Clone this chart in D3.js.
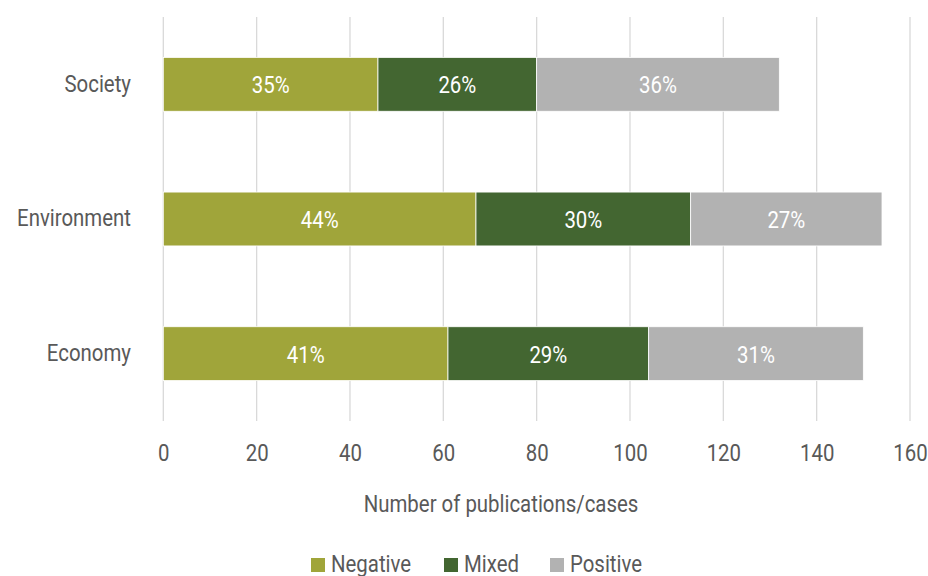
<!DOCTYPE html>
<html>
<head>
<meta charset="utf-8">
<script src="https://cdn.jsdelivr.net/npm/d3@7"></script>
<style>
  html, body { margin: 0; padding: 0; background: #fff; }
  svg { display: block; }
  text { font-family: "Roboto", "Liberation Sans", sans-serif; }
</style>
</head>
<body>
<svg id="chart" width="928" height="576"></svg>
<script>
// ---- data ----
const categories = ["Society", "Environment", "Economy"];
const seriesNames = ["Negative", "Mixed", "Positive"];
const negative = [46, 67, 61];
const mixed = [34, 46, 43];
const positive = [52, 41, 46];
const negativeLabels = ["35%", "44%", "41%"];
const mixedLabels = ["26%", "30%", "29%"];
const positiveLabels = ["36%", "27%", "31%"];
const xTicks = [0, 20, 40, 60, 80, 100, 120, 140, 160];
const axisTitle = "Number of publications/cases";

const colors = ["#A0A53A", "#436631", "#B2B2B2"];
const textColor = "#595959";
const gridColor = "#D9D9D9";
const FS = 24;          // font size
const SX = 0.85;        // horizontal condense factor

const rows = categories.map((c, i) => ({
  category: c,
  Negative: negative[i], Mixed: mixed[i], Positive: positive[i],
  labels: { Negative: negativeLabels[i], Mixed: mixedLabels[i], Positive: positiveLabels[i] }
}));

const svg = d3.select("#chart");
const x = d3.scaleLinear().domain([0, 160]).range([163.3, 910]);
const y = d3.scaleBand().domain(categories).range([17, 421]).paddingInner(0.6).paddingOuter(0.3);

// helper: condensed text placed at (px, py)
function ctext(g, px, py) {
  return g.append("g").attr("transform", `translate(${px},${py}) scale(${SX},1)`).append("text")
    .attr("font-size", FS);
}

// gridlines
svg.append("g").selectAll("line").data(xTicks).join("line")
  .attr("x1", d => x(d)).attr("x2", d => x(d))
  .attr("y1", 17).attr("y2", 421)
  .attr("stroke", gridColor).attr("stroke-width", 1.3);

// x axis labels
const xAxis = d3.axisBottom(x).tickValues(xTicks).tickSize(0).tickPadding(0);
const gx = svg.append("g").attr("transform", "translate(0,461)").call(xAxis);
gx.select(".domain").remove();
gx.selectAll("text").attr("dy", 0).attr("y", 0)
  .attr("transform", `scale(${SX},1)`)
  .attr("font-size", FS).attr("fill", textColor)
  .style("font-family", '"Roboto", sans-serif');

// y axis labels
const yAxis = d3.axisLeft(y).tickSize(0).tickPadding(0);
const gy = svg.append("g").attr("transform", "translate(131,0)").call(yAxis);
gy.select(".domain").remove();
gy.selectAll("text").attr("dy", "0.3em").attr("x", 0)
  .attr("transform", `scale(${SX},1)`)
  .attr("font-size", FS).attr("fill", textColor)
  .style("font-family", '"Roboto", sans-serif');

// stacked bars
const stacked = d3.stack().keys(seriesNames)(rows);
const color = d3.scaleOrdinal().domain(seriesNames).range(colors);

const layers = svg.append("g").selectAll("g").data(stacked).join("g")
  .attr("fill", d => color(d.key));
layers.selectAll("rect").data(d => d.map(v => Object.assign(v, { key: d.key }))).join("rect")
  .attr("x", d => x(d[0]))
  .attr("width", d => x(d[1]) - x(d[0]))
  .attr("y", d => y(d.data.category))
  .attr("height", y.bandwidth())
  .attr("stroke", "#ffffff").attr("stroke-width", 0.8);

layers.each(function(layer) {
  const g = d3.select(this);
  layer.forEach(d => {
    ctext(g, (x(d[0]) + x(d[1])) / 2, y(d.data.category) + y.bandwidth() / 2)
      .attr("dy", "0.38em")
      .attr("text-anchor", "middle")
      .attr("fill", "#ffffff")
      .text(d.data.labels[d.key]);
  });
});

// axis title
ctext(svg, 501, 512)
  .attr("text-anchor", "middle").attr("fill", textColor)
  .text(axisTitle);

// legend
const legendX = [311, 444, 550];
seriesNames.forEach((name, i) => {
  const g = svg.append("g").attr("transform", `translate(${legendX[i]},558)`);
  g.append("rect").attr("width", 14).attr("height", 14).attr("fill", color(name));
  ctext(g, 20, 14).attr("fill", textColor).text(name);
});
</script>
</body>
</html>
